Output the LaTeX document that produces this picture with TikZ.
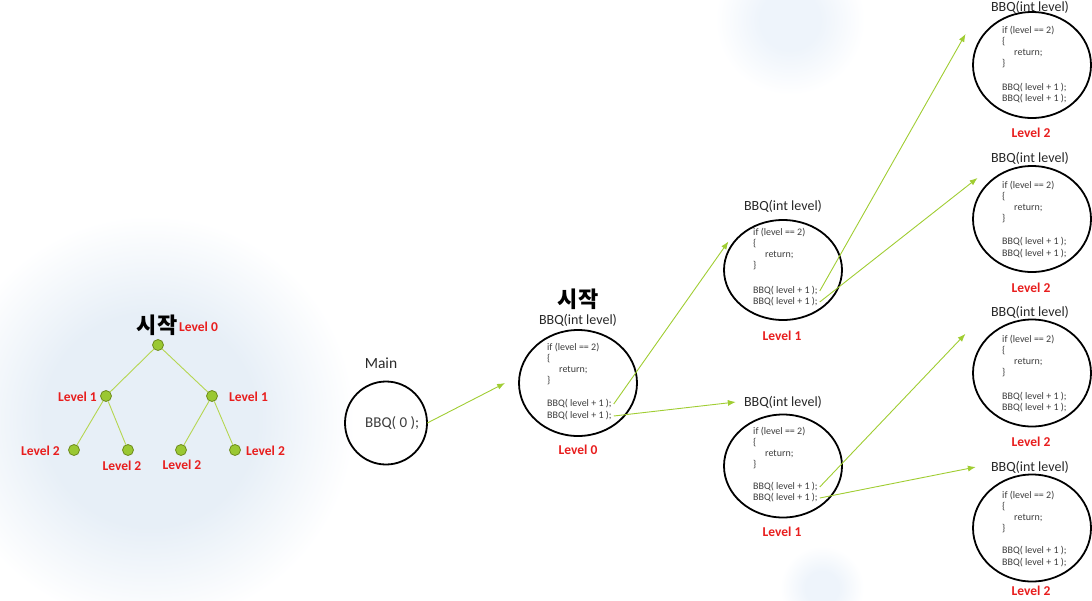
\documentclass[tikz,border=0pt]{standalone}
\usepackage{fontspec}
\setmainfont{Carlito}
\newfontfamily\kofont{Noto Sans CJK KR}
\usepackage{tikz}
\usetikzlibrary{
  shapes.geometric,
  arrows.meta,
  positioning
}
\definecolor{blobcolor}{RGB}{231, 239, 247}
\definecolor{blobcolorlight}{RGB}{238, 244, 251}
\definecolor{treegreen}{RGB}{154, 200, 50}
\definecolor{treeedge}{RGB}{110, 140, 30}
\definecolor{linkcolor}{RGB}{181, 214, 80}
\definecolor{arrowcolor}{RGB}{160, 205, 50}
\definecolor{levelcolor}{RGB}{232, 30, 30}
\definecolor{titlecolor}{RGB}{40, 40, 40}
\definecolor{codecolor}{RGB}{60, 60, 60}
\pgfdeclareradialshading{blob}{\pgfpoint{0bp}{0bp}}{%
  color(0bp)=(blobcolor); color(13bp)=(blobcolor);
  color(25bp)=(white); color(50bp)=(white)}
\pgfdeclareradialshading{smallblob}{\pgfpoint{0bp}{0bp}}{%
  color(0bp)=(blobcolorlight); color(10bp)=(blobcolorlight);
  color(25bp)=(white); color(50bp)=(white)}
\tikzset{
levellabel/.style={
  font=\fontsize{13.5}{15}\selectfont\bfseries,
  text=levelcolor,
  inner sep=0pt
},
startlabel/.style={
  font=\kofont\fontsize{22}{24}\selectfont\bfseries,
  text=black,
  inner sep=0pt
},
treenode/.style={
  circle,
  draw=treeedge,
  fill=treegreen,
  line width=0.8pt,
  minimum size=11pt,
  inner sep=0pt
},
treelink/.style={
  draw=linkcolor,
  line width=0.9pt
},
callcircle/.style={
  ellipse,
  draw=black,
  line width=1.8pt,
  minimum width=118pt,
  minimum height=106pt,
  inner sep=0pt
},
functitle/.style={
  font=\fontsize{14}{16}\selectfont,
  text=titlecolor,
  inner sep=0pt
},
codeblock/.style={
  font=\fontsize{10}{11}\selectfont,
  text=codecolor,
  align=left,
  anchor=north west,
  inner sep=0pt
},
callline/.style={
  font=\fontsize{10}{11}\selectfont,
  text=codecolor,
  anchor=west,
  inner sep=2pt
},
callarrow/.style={
  -{Latex[length=8pt,width=6pt]},
  line width=0.9pt,
  draw=arrowcolor
}
}
\newcommand{\bbqbody}{if (level == 2)\\\{\\\hspace*{12pt}return;\\\}}

\begin{document}
\begin{tikzpicture}[x=1pt, y=-1pt]
\useasboundingbox (0,0) rectangle (1092,600);

% ============================================================================
% FUNDO
% ============================================================================
\shade[shading=blob] (150,420) circle (205);
\shade[shading=smallblob] (790,20) circle (75);
\shade[shading=smallblob] (822,588) circle (42);

% ============================================================================
% ARVORE DE CHAMADAS
% ============================================================================
\node[treenode] (root) at (158,345) {};
\node[treenode] (tl) at (106,396) {};
\node[treenode] (tr) at (212,396) {};
\node[treenode] (tll) at (74,450) {};
\node[treenode] (tlr) at (128,450) {};
\node[treenode] (trl) at (181,450) {};
\node[treenode] (trr) at (235,450) {};

\draw[treelink] (root) -- (tl);
\draw[treelink] (root) -- (tr);
\draw[treelink] (tl) -- (tll);
\draw[treelink] (tl) -- (tlr);
\draw[treelink] (tr) -- (trl);
\draw[treelink] (tr) -- (trr);

\node[startlabel] (treestart) at (157,325) {시작};
\node[levellabel, anchor=west] (treel0) at (179,327) {Level 0};
\node[levellabel, anchor=east] (treel1a) at (97,397) {Level 1};
\node[levellabel, anchor=west] (treel1b) at (229,397) {Level 1};
\node[levellabel, anchor=east] (treel2a) at (60,451) {Level 2};
\node[levellabel] (treel2b) at (122,466) {Level 2};
\node[levellabel] (treel2c) at (182,465) {Level 2};
\node[levellabel, anchor=west] (treel2d) at (246,451) {Level 2};

% ============================================================================
% MAIN
% ============================================================================
\node[callcircle, minimum width=82pt, minimum height=83pt] (mainc) at (386,423) {};
\node[functitle, font=\fontsize{15.5}{17}\selectfont] (maint) at (381,363) {Main};
\node[callline, font=\fontsize{15}{17}\selectfont, inner xsep=8pt, inner ysep=0pt] (maincall) at (357,423) {BBQ( 0 );};

% ============================================================================
% LEVEL 0
% ============================================================================
\node[callcircle] (l0) at (578,383) {};
\node[startlabel] (l0start) at (578,299) {시작};
\node[functitle] (l0t) at (578,320) {BBQ(int level)};
\node[codeblock] (l0code) at (547,343) {\bbqbody};
\node[callline] (l0c1) at (545,404) {BBQ( level + 1 );};
\node[callline] (l0c2) at (545,416) {BBQ( level + 1 );};
\node[levellabel] (l0lvl) at (578,450) {Level 0};

% ============================================================================
% LEVEL 1
% ============================================================================
\node[callcircle, minimum height=100pt] (l1a) at (783,270) {};
\node[functitle] (l1at) at (783,206) {BBQ(int level)};
\node[codeblock] (l1acode) at (753,228) {\bbqbody};
\node[callline] (l1ac1) at (751,291) {BBQ( level + 1 );};
\node[callline] (l1ac2) at (751,302) {BBQ( level + 1 );};
\node[levellabel] (l1alvl) at (782,336) {Level 1};

\node[callcircle, minimum height=103pt] (l1b) at (783,466) {};
\node[functitle] (l1bt) at (783,402) {BBQ(int level)};
\node[codeblock] (l1bcode) at (753,427) {\bbqbody};
\node[callline] (l1bc1) at (751,487) {BBQ( level + 1 );};
\node[callline] (l1bc2) at (751,498) {BBQ( level + 1 );};
\node[levellabel] (l1blvl) at (782,532) {Level 1};

% ============================================================================
% LEVEL 2
% ============================================================================
\node[callcircle, minimum height=106pt] (l2a) at (1032,65) {};
\node[functitle] (l2at) at (1030,7) {BBQ(int level)};
\node[codeblock] (l2acode) at (1002,26) {\bbqbody};
\node[callline] (l2ac1) at (1000,88) {BBQ( level + 1 );};
\node[callline] (l2ac2) at (1000,99) {BBQ( level + 1 );};
\node[levellabel] (l2alvl) at (1031,133) {Level 2};

\node[callcircle] (l2b) at (1032,219) {};
\node[functitle] (l2bt) at (1030,158) {BBQ(int level)};
\node[codeblock] (l2bcode) at (1002,181) {\bbqbody};
\node[callline] (l2bc1) at (1000,242) {BBQ( level + 1 );};
\node[callline] (l2bc2) at (1000,254) {BBQ( level + 1 );};
\node[levellabel] (l2blvl) at (1031,288) {Level 2};

\node[callcircle, minimum height=107pt] (l2c) at (1032,373) {};
\node[functitle] (l2ct) at (1030,312) {BBQ(int level)};
\node[codeblock] (l2ccode) at (1002,335) {\bbqbody};
\node[callline] (l2cc1) at (1000,397) {BBQ( level + 1 );};
\node[callline] (l2cc2) at (1000,408) {BBQ( level + 1 );};
\node[levellabel] (l2clvl) at (1031,442) {Level 2};

\node[callcircle, minimum height=107pt] (l2d) at (1032,528) {};
\node[functitle] (l2dt) at (1030,467) {BBQ(int level)};
\node[codeblock] (l2dcode) at (1002,491) {\bbqbody};
\node[callline] (l2dc1) at (1000,551) {BBQ( level + 1 );};
\node[callline] (l2dc2) at (1000,563) {BBQ( level + 1 );};
\node[levellabel] (l2dlvl) at (1031,591) {Level 2};

% ============================================================================
% CHAMADAS
% ============================================================================
\draw[callarrow] (maincall.east) -- ([shift={(-13,0)}]l0.west);
\draw[callarrow] (l0c1.east) -- ([shift={(-5,0)}]l1a.150);
\draw[callarrow] (l0c2.east) -- ([shift={(-8,0)}]l1bt.west);
\draw[callarrow] (l1ac1.east) -- ([shift={(-16,-2)}]l2a.150);
\draw[callarrow] (l1ac2.east) -- ([shift={(-4,-12)}]l2b.150);
\draw[callarrow] (l1bc1.east) -- ([shift={(-16,-10)}]l2c.150);
\draw[callarrow] (l1bc2.east) -- ([shift={(-15,0)}]l2dt.west);

\end{tikzpicture}
\end{document}
